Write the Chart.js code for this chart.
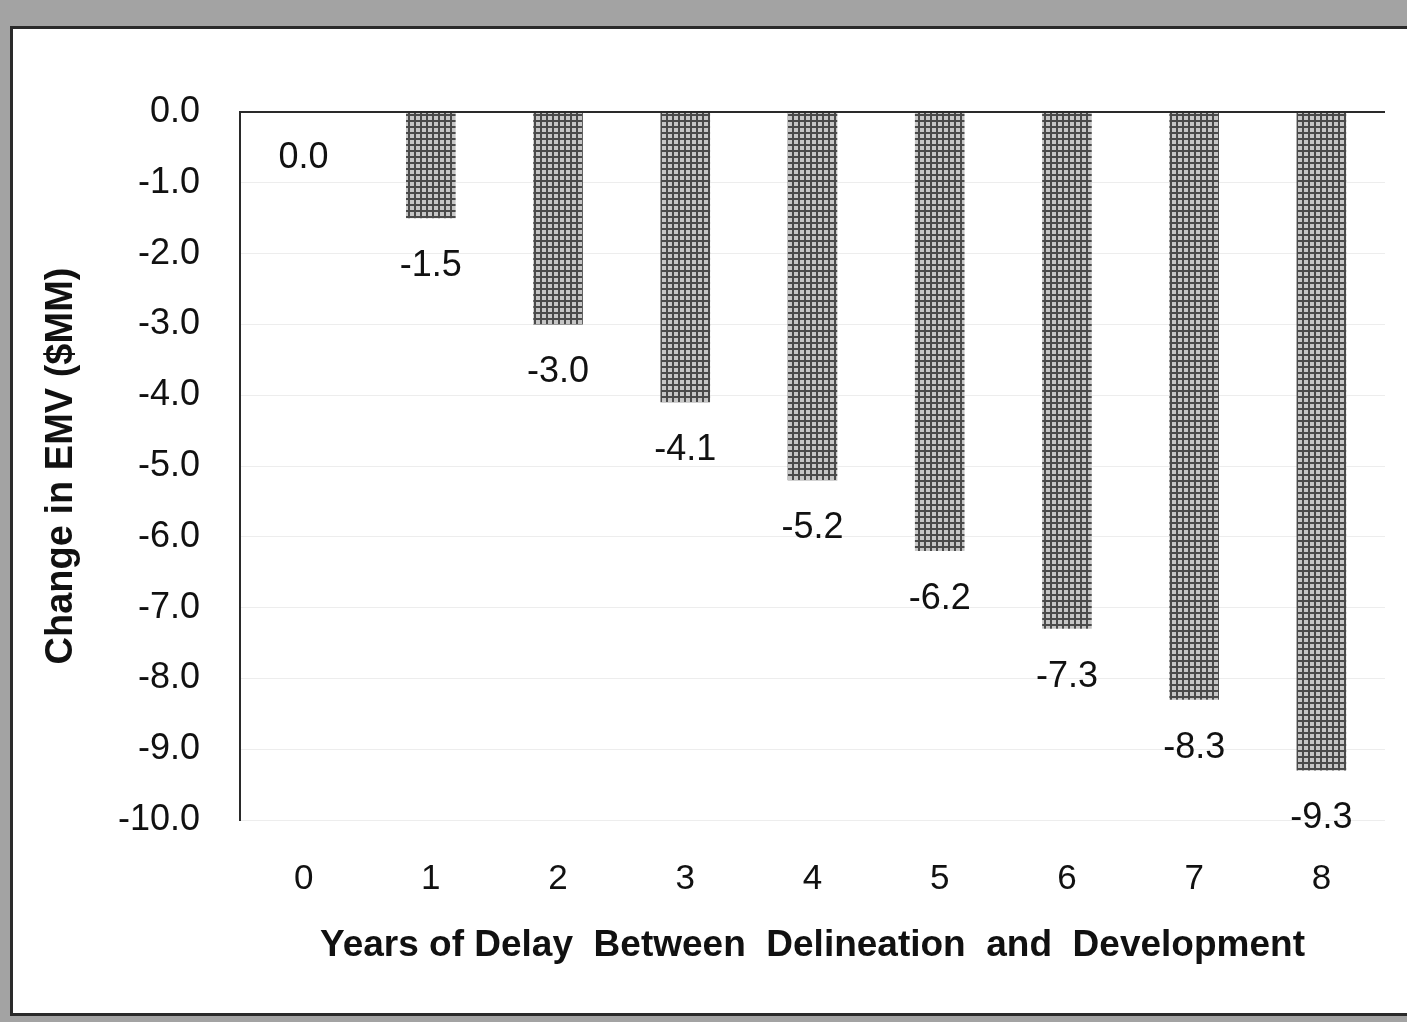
<!DOCTYPE html>
<html>
<head>
<meta charset="utf-8">
<script src="https://cdn.jsdelivr.net/npm/chart.js@4"></script>
<style>
  html, body { margin: 0; padding: 0; overflow: hidden; }
  body { width: 1407px; height: 1022px; background: #a3a3a3; position: relative; }
  .frame { position: absolute; left: 10px; top: 26px; width: 1420px; height: 984px;
           background: #fff; border: 3px solid #2a2a2a; }
  .wrap { position: absolute; left: 0; top: 0; width: 1407px; height: 1022px; }
</style>
</head>
<body>
<div class="frame"></div>
<div class="wrap"><canvas id="chart" width="1407" height="1022"></canvas></div>
<script>
const years = ['0', '1', '2', '3', '4', '5', '6', '7', '8'];
const emvChange = [0.0, -1.5, -3.0, -4.1, -5.2, -6.2, -7.3, -8.3, -9.3];

const FONT = '"Liberation Sans", Arial, sans-serif';

// crosshatch fill like the printed bars
function makePattern() {
    const c = document.createElement('canvas');
    c.width = 6; c.height = 6;
    const g = c.getContext('2d');
    g.fillStyle = '#c6c6c6';
    g.fillRect(0, 0, 6, 6);
    g.fillStyle = '#4a4a4a';
    g.fillRect(0, 0, 6, 2);
    g.fillRect(0, 0, 2, 6);
    return g.createPattern(c, 'repeat');
}

const valueLabels = {
    id: 'valueLabels',
    afterDatasetsDraw(chart) {
        const ctx = chart.ctx;
        const meta = chart.getDatasetMeta(0);
        ctx.save();
        ctx.font = '36px ' + FONT;
        ctx.fillStyle = '#111';
        ctx.textAlign = 'center';
        ctx.textBaseline = 'middle';
        meta.data.forEach((bar, i) => {
            const v = emvChange[i];
            ctx.fillText(v.toFixed(1), bar.x, bar.y + (v === 0 ? 46 : 48));
        });
        ctx.restore();
    }
};

const ctx = document.getElementById('chart').getContext('2d');
const chart = new Chart(ctx, {
    type: 'bar',
    data: {
        labels: years,
        datasets: [{
            data: emvChange,
            backgroundColor: makePattern(),
            borderWidth: 0,
            categoryPercentage: 1,
            barPercentage: 0.39
        }]
    },
    options: {
        responsive: false,
        maintainAspectRatio: false,
        animation: false,
        layout: { padding: { left: 0, top: 112, right: 22, bottom: 0 } },
        plugins: { legend: { display: false }, tooltip: { enabled: false } },
        scales: {
            x: {
                grid: { display: false, drawTicks: false },
                border: { display: false },
                ticks: {
                    color: '#111', padding: 38, autoSkip: false, maxRotation: 0,
                    font: { family: FONT, size: 35 }
                },
                title: {
                    display: true,
                    text: 'Years of Delay  Between  Delineation  and  Development',
                    color: '#111',
                    padding: { top: 54, bottom: 54 },
                    font: { family: FONT, size: 37, weight: 'bold' }
                },
                afterFit: s => { s.height = 202; }
            },
            y: {
                min: -10, max: 0,
                ticks: {
                    stepSize: 1, color: '#111', padding: 40, autoSkip: false,
                    font: { family: FONT, size: 36 },
                    callback: v => v.toFixed(1)
                },
                grid: {
                    drawTicks: false,
                    color: c => c.tick && c.tick.value === 0 ? '#2a2a2a' : '#ededed',
                    lineWidth: c => c.tick && c.tick.value === 0 ? 2 : 1
                },
                border: { display: true, color: '#2a2a2a', width: 2 },
                title: {
                    display: true,
                    text: 'Change in EMV ($MM)',
                    color: '#111',
                    padding: { top: 39, bottom: 39 },
                    font: { family: FONT, size: 38, weight: 'bold' }
                },
                afterFit: s => { s.width = 240; }
            }
        }
    },
    plugins: [valueLabels]
});
</script>
</body>
</html>
